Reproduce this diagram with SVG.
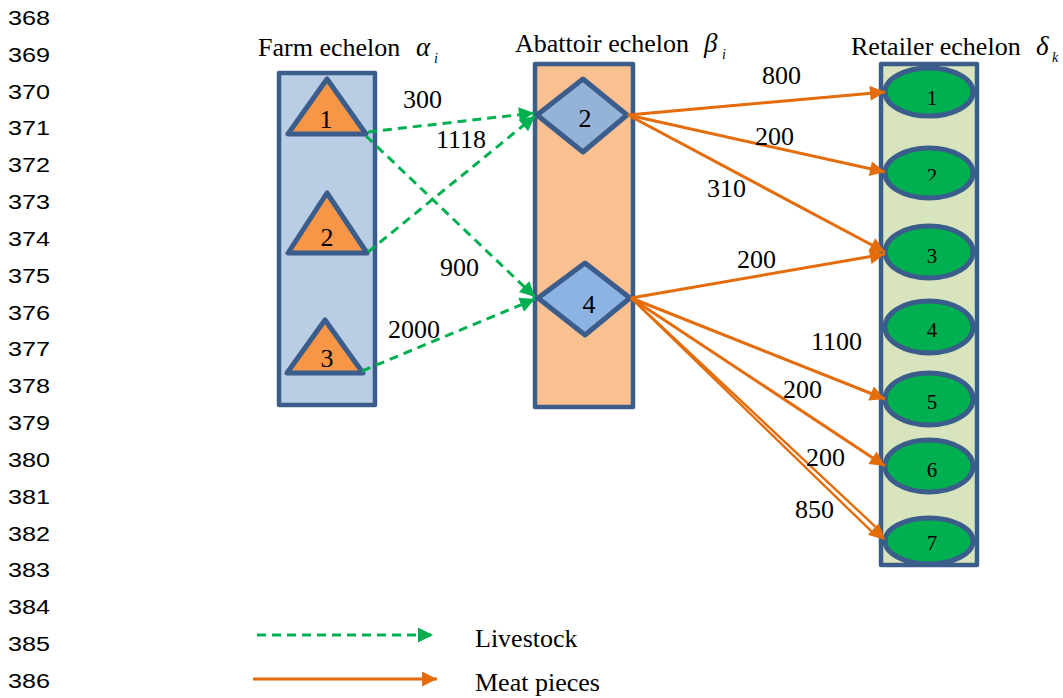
<svg xmlns="http://www.w3.org/2000/svg" width="1063" height="698" viewBox="0 0 1063 698">
  <defs>
    <marker id="arrGreen" viewBox="0 0 10 10" refX="10" refY="5" markerWidth="5.5" markerHeight="5" markerUnits="strokeWidth" orient="auto">
      <path d="M0,0 L10,5 L0,10 z" fill="#00b050"/>
    </marker>
    <marker id="arrOrange" viewBox="0 0 10 10" refX="10" refY="5" markerWidth="5.5" markerHeight="5" markerUnits="strokeWidth" orient="auto">
      <path d="M0,0 L10,5 L0,10 z" fill="#e46c0a"/>
    </marker>
    <clipPath id="clipLabel2">
      <rect x="900" y="150" width="60" height="30.5"/>
    </clipPath>
  </defs>
  <style>
    .lineno { font-family: "Liberation Sans", "DejaVu Sans", sans-serif; font-size: 20px; fill: #000; }
    .serif { font-family: "Liberation Serif", "Times New Roman", serif; fill: #000; }
    .title { font-size: 26px; }
    .greek { font-size: 27px; font-style: italic; }
    .sub { font-size: 14px; font-style: italic; }
    .lbl { font-size: 26px; text-anchor: middle; }
    .lblS { font-size: 21px; text-anchor: middle; }
    .echelon { stroke: #3b5d8b; stroke-width: 4.5; stroke-linejoin: round; }
    .shape { stroke: #3b5d8b; stroke-width: 5; stroke-linejoin: round; }
    .tri { fill: #f79646; }
    .ell { fill: #00b050; }
    .live { fill: none; stroke: #00b050; stroke-width: 3; stroke-dasharray: 9 6; marker-end: url(#arrGreen); }
    .meat { fill: none; stroke: #e46c0a; stroke-width: 3; marker-end: url(#arrOrange); }
    .meat2 { fill: none; stroke: #e46c0a; stroke-width: 2.4; }
  </style>

  <!-- line numbering in the margin -->
  <g id="line-numbers">
    <text class="lineno" x="8" y="25" textLength="42" lengthAdjust="spacingAndGlyphs">368</text>
    <text class="lineno" x="8" y="62" textLength="42" lengthAdjust="spacingAndGlyphs">369</text>
    <text class="lineno" x="8" y="99" textLength="42" lengthAdjust="spacingAndGlyphs">370</text>
    <text class="lineno" x="8" y="135" textLength="42" lengthAdjust="spacingAndGlyphs">371</text>
    <text class="lineno" x="8" y="172" textLength="42" lengthAdjust="spacingAndGlyphs">372</text>
    <text class="lineno" x="8" y="209" textLength="42" lengthAdjust="spacingAndGlyphs">373</text>
    <text class="lineno" x="8" y="246" textLength="42" lengthAdjust="spacingAndGlyphs">374</text>
    <text class="lineno" x="8" y="283" textLength="42" lengthAdjust="spacingAndGlyphs">375</text>
    <text class="lineno" x="8" y="320" textLength="42" lengthAdjust="spacingAndGlyphs">376</text>
    <text class="lineno" x="8" y="356" textLength="42" lengthAdjust="spacingAndGlyphs">377</text>
    <text class="lineno" x="8" y="393" textLength="42" lengthAdjust="spacingAndGlyphs">378</text>
    <text class="lineno" x="8" y="430" textLength="42" lengthAdjust="spacingAndGlyphs">379</text>
    <text class="lineno" x="8" y="467" textLength="42" lengthAdjust="spacingAndGlyphs">380</text>
    <text class="lineno" x="8" y="504" textLength="42" lengthAdjust="spacingAndGlyphs">381</text>
    <text class="lineno" x="8" y="541" textLength="42" lengthAdjust="spacingAndGlyphs">382</text>
    <text class="lineno" x="8" y="577" textLength="42" lengthAdjust="spacingAndGlyphs">383</text>
    <text class="lineno" x="8" y="614" textLength="42" lengthAdjust="spacingAndGlyphs">384</text>
    <text class="lineno" x="8" y="651" textLength="42" lengthAdjust="spacingAndGlyphs">385</text>
    <text class="lineno" x="8" y="688" textLength="42" lengthAdjust="spacingAndGlyphs">386</text>
  </g>

  <!-- echelon columns -->
  <g id="farm-echelon">
    <rect class="echelon" x="279" y="73" width="96" height="332" fill="#b9cde5"/>
    <text class="serif title" x="258" y="56">Farm echelon</text>
    <text class="serif greek" x="416" y="56">α</text>
    <text class="serif sub" x="434" y="63">i</text>
  </g>
  <g id="abattoir-echelon">
    <rect class="echelon" x="535" y="64" width="98" height="343" fill="#fac090"/>
    <text class="serif title" x="515" y="52">Abattoir echelon</text>
    <text class="serif greek" x="704" y="52">β</text>
    <text class="serif sub" x="722" y="59">i</text>
  </g>
  <g id="retailer-echelon">
    <rect class="echelon" x="881" y="64" width="96" height="501" fill="#d7e4bd"/>
    <text class="serif title" x="851" y="55">Retailer echelon</text>
    <text class="serif greek" x="1036" y="55">δ</text>
    <text class="serif sub" x="1052" y="62">k</text>
  </g>

  <!-- farms -->
  <g id="farm-1">
    <polygon class="shape tri" points="327,79 288,134 366,134"/>
    <text class="serif lbl" x="326" y="128">1</text>
  </g>
  <g id="farm-2">
    <polygon class="shape tri" points="327,193 288,253 367,253"/>
    <text class="serif lbl" x="327" y="246">2</text>
  </g>
  <g id="farm-3">
    <polygon class="shape tri" points="325,320 287,373 363,373"/>
    <text class="serif lbl" x="327" y="367">3</text>
  </g>

  <!-- abattoirs -->
  <g id="abattoir-2">
    <polygon class="shape" fill="#95b3d7" points="537,115 583,79 627,115 583,152"/>
    <text class="serif lbl" x="585" y="127">2</text>
  </g>
  <g id="abattoir-4">
    <polygon class="shape" fill="#8db3e2" points="538,298 585,263 630,298 585,335"/>
    <text class="serif lbl" x="589" y="313">4</text>
  </g>

  <!-- retailers -->
  <g id="retailer-1">
    <ellipse class="shape ell" cx="929" cy="92" rx="44" ry="24"/>
    <text class="serif lblS" x="932" y="105">1</text>
  </g>
  <g id="retailer-2">
    <ellipse class="shape ell" cx="929" cy="173" rx="44" ry="25"/>
    <text class="serif lblS" x="932" y="183" clip-path="url(#clipLabel2)">2</text>
  </g>
  <g id="retailer-3">
    <ellipse class="shape ell" cx="929" cy="252" rx="44" ry="26"/>
    <text class="serif lblS" x="932" y="263">3</text>
  </g>
  <g id="retailer-4">
    <ellipse class="shape ell" cx="929" cy="327" rx="44" ry="26"/>
    <text class="serif lblS" x="932" y="337">4</text>
  </g>
  <g id="retailer-5">
    <ellipse class="shape ell" cx="929" cy="399" rx="44" ry="26"/>
    <text class="serif lblS" x="932" y="409">5</text>
  </g>
  <g id="retailer-6">
    <ellipse class="shape ell" cx="929" cy="466" rx="44" ry="26"/>
    <text class="serif lblS" x="932" y="477">6</text>
  </g>
  <g id="retailer-7">
    <ellipse class="shape ell" cx="929" cy="541" rx="44" ry="23"/>
    <text class="serif lblS" x="932" y="550">7</text>
  </g>

  <!-- flows between echelons -->
  <g id="connectors">
    <!-- livestock: farms to abattoirs -->
    <line class="live" x1="368" y1="132" x2="534" y2="113"/>
    <line class="live" x1="366" y1="136" x2="535" y2="297"/>
    <line class="live" x1="368" y1="252" x2="535" y2="116"/>
    <line class="live" x1="362" y1="371" x2="535" y2="299"/>

    <!-- meat pieces: abattoirs to retailers -->
    <line class="meat" x1="628" y1="115" x2="885" y2="92"/>
    <line class="meat" x1="628" y1="115" x2="885" y2="172"/>
    <line class="meat" x1="628" y1="115" x2="885" y2="252"/>
    <line class="meat" x1="631" y1="298" x2="885" y2="254"/>
    <line class="meat" x1="631" y1="298" x2="885" y2="399"/>
    <line class="meat" x1="631" y1="298" x2="885" y2="466"/>
    <!-- double line to retailer 7 -->
    <line class="meat2" x1="631" y1="298" x2="875.5" y2="526.8"/>
    <line class="meat2" x1="631" y1="298" x2="871.3" y2="531.2"/>
    <polygon points="885,540 878.9,523.2 867.9,534.8" fill="#e46c0a"/>

    <!-- flow quantities -->
    <text class="serif title" x="403" y="108">300</text>
    <text class="serif title" x="436" y="148">1118</text>
    <text class="serif title" x="440" y="276">900</text>
    <text class="serif title" x="388" y="338">2000</text>
    <text class="serif title" x="762" y="84">800</text>
    <text class="serif title" x="755" y="145">200</text>
    <text class="serif title" x="707" y="197">310</text>
    <text class="serif title" x="737" y="268">200</text>
    <text class="serif title" x="811" y="350">1100</text>
    <text class="serif title" x="783" y="398">200</text>
    <text class="serif title" x="806" y="466">200</text>
    <text class="serif title" x="795" y="518">850</text>
  </g>

  <!-- legend -->
  <g id="legend">
    <line class="live" x1="257" y1="635" x2="433" y2="635"/>
    <text class="serif title" x="475" y="647">Livestock</text>
    <line class="meat" x1="253" y1="679" x2="437" y2="679"/>
    <text class="serif title" x="475" y="691">Meat pieces</text>
  </g>
</svg>
